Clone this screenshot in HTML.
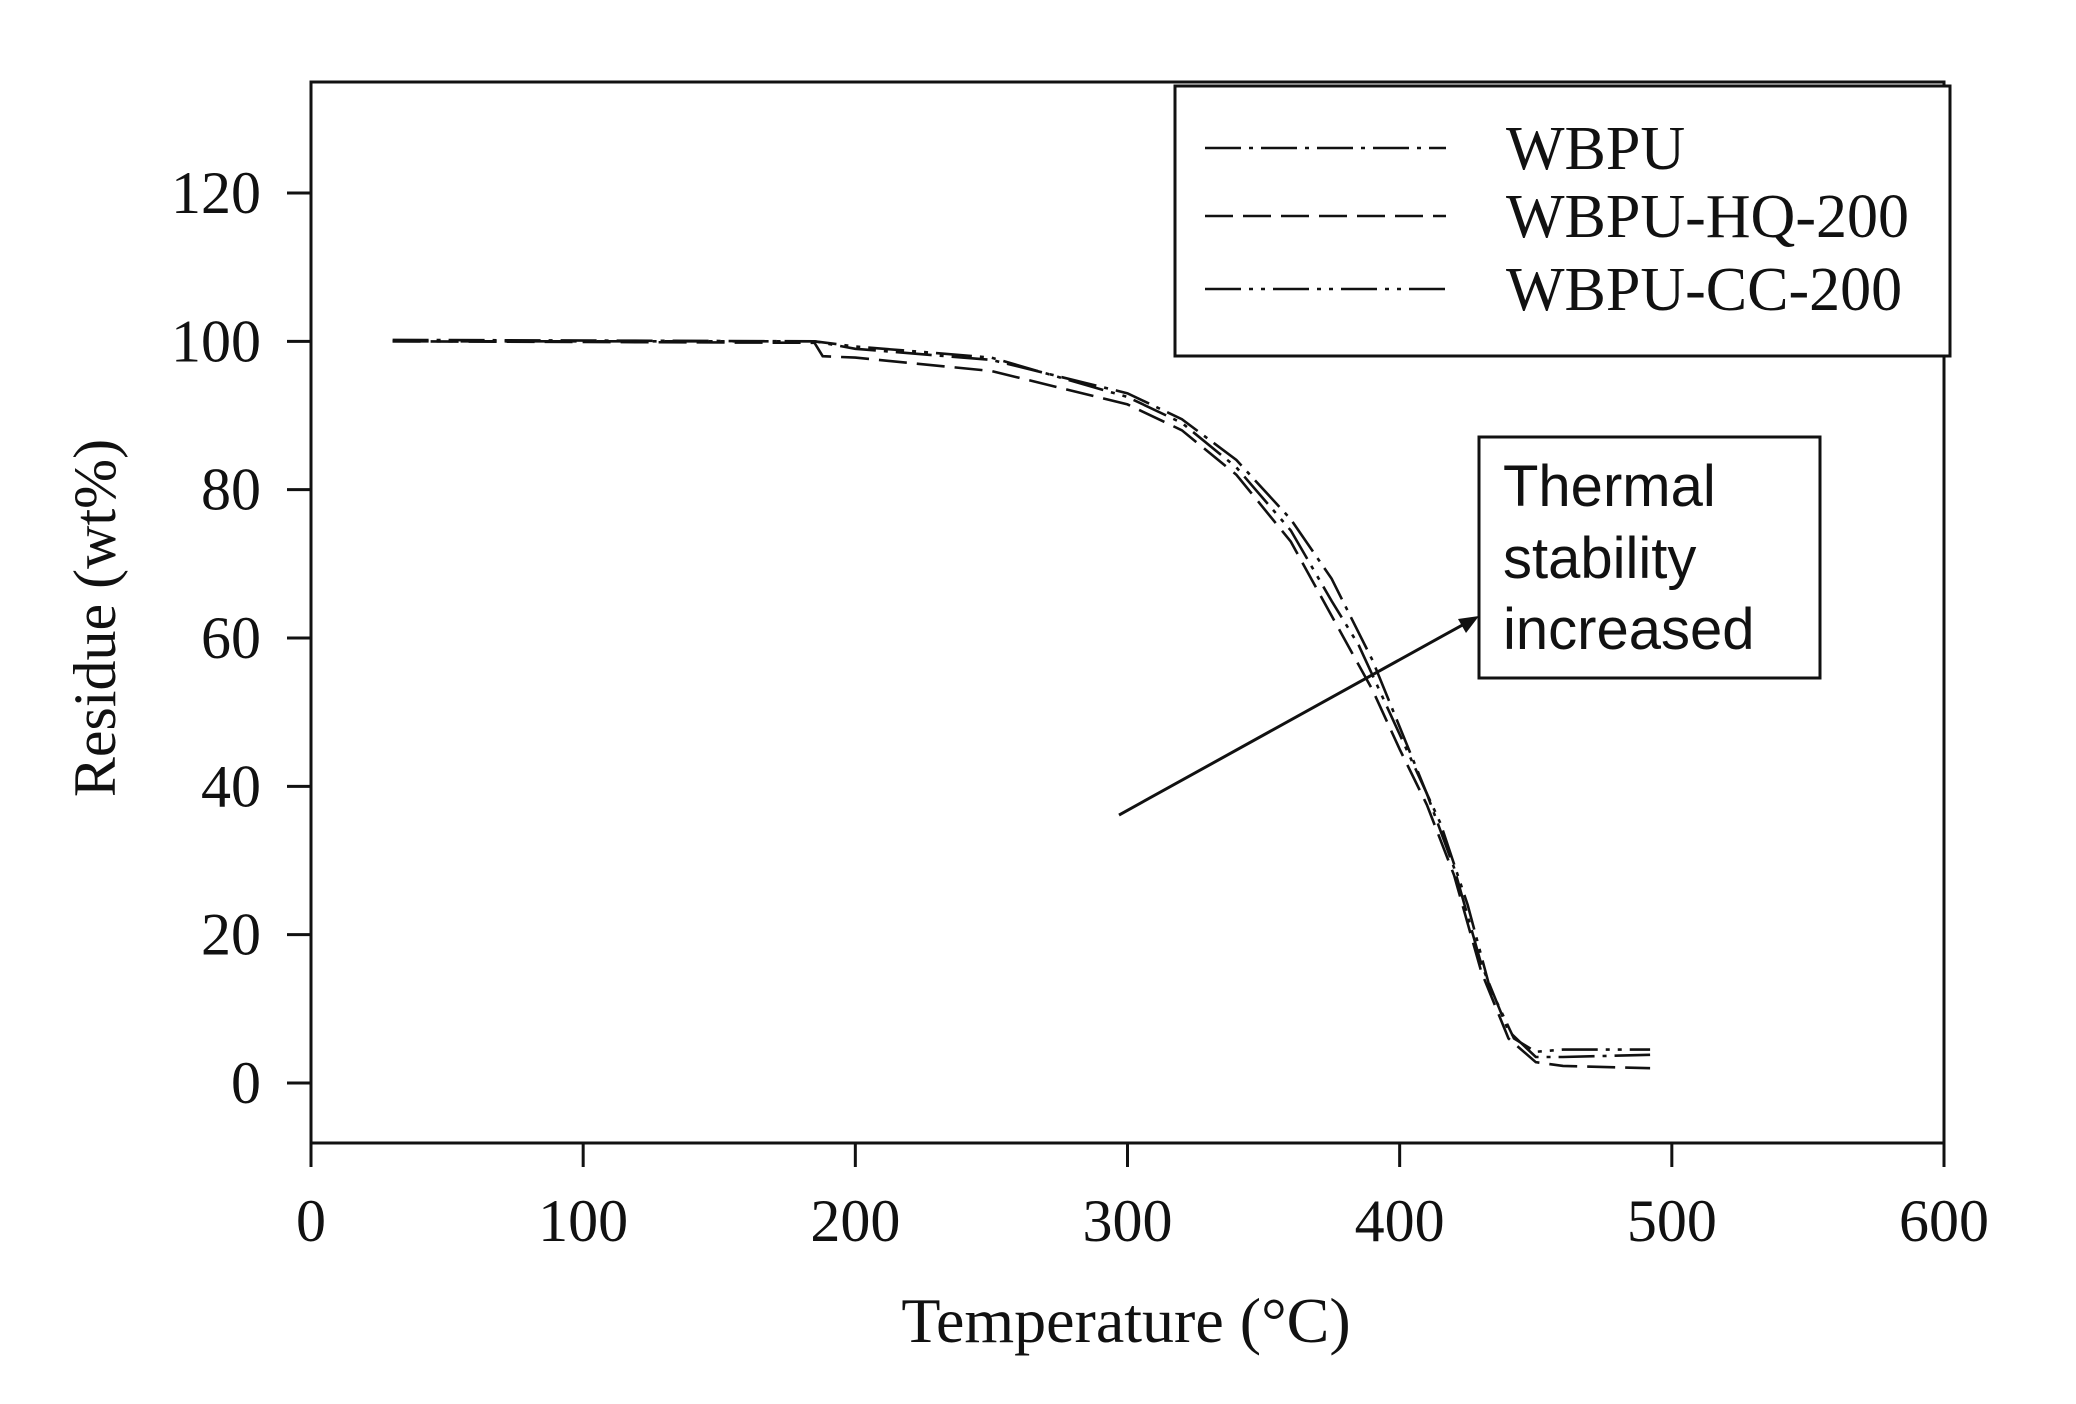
<!DOCTYPE html>
<html><head><meta charset="utf-8"><style>
html,body{margin:0;padding:0;background:#fff;}
svg{display:block;}
text{font-family:"Liberation Serif",serif;fill:#111;}
.s{font-family:"Liberation Sans",sans-serif;}
</style></head><body>
<svg id="c" width="2076" height="1404" viewBox="0 0 2076 1404" xmlns="http://www.w3.org/2000/svg">
<rect x="0" y="0" width="2076" height="1404" fill="#fff"/>
<rect x="311" y="82" width="1633" height="1061" fill="none" stroke="#111" stroke-width="3"/>
<g id="ticks" stroke="#111" stroke-width="3"></g>
<g id="labs" font-size="60"></g>
<g font-size="64" text-anchor="middle">
<text x="1126" y="1342">Temperature (°C)</text>
<text x="0" y="0" font-size="60" transform="translate(115,618) rotate(-90)">Residue (wt%)</text>
</g>
<g id="curves" fill="none" stroke="#111" stroke-width="2.6"></g>
<rect x="1175" y="86" width="775" height="270" fill="#fff" stroke="#111" stroke-width="3"/>
<g stroke="#111" stroke-width="2.6">
<line x1="1205" y1="148" x2="1446" y2="148" stroke-dasharray="36,8,4,8"/>
<line x1="1205" y1="216" x2="1446" y2="216" stroke-dasharray="28,10"/>
<line x1="1205" y1="289" x2="1446" y2="289" stroke-dasharray="36,8,4,8,4,8"/>
</g>
<g font-size="62">
<text x="1506" y="169">WBPU</text>
<text x="1506" y="237">WBPU-HQ-200</text>
<text x="1506" y="310">WBPU-CC-200</text>
</g>
<rect x="1479" y="437" width="341" height="241" fill="#fff" stroke="#111" stroke-width="3"/>
<g font-size="58">
<text class="s" x="1503" y="506">Thermal</text>
<text class="s" x="1503" y="578">stability</text>
<text class="s" x="1503" y="649">increased</text>
</g>
<line x1="1119" y1="815" x2="1466" y2="623" stroke="#111" stroke-width="3"/>
<polygon points="1479,616 1458,619 1466,633" fill="#111"/>
</svg>
<script>
var NS="http://www.w3.org/2000/svg";
function X(t){return 311+t*1633/600;}function Y(r){return 1083-r*890/120;}
function el(n,a,p,txt){var e=document.createElementNS(NS,n);for(var k in a)e.setAttribute(k,a[k]);if(txt!==undefined)e.textContent=txt;p.appendChild(e);return e;}
var tk=document.getElementById("ticks"),lb=document.getElementById("labs");
for(var r=0;r<=120;r+=20){var y=Y(r);el("line",{x1:287,y1:y,x2:311,y2:y},tk);el("text",{x:261,y:y+20,"text-anchor":"end"},lb,String(r));}
for(var t=0;t<=600;t+=100){var x=X(t);el("line",{x1:x,y1:1143,x2:x,y2:1167},tk);el("text",{x:x,y:1241,"text-anchor":"middle"},lb,String(t));}
var data=[
 {d:"36,8,4,8",p:[[30,100.2],[185,100],[200,99],[250,97.5],[300,93],[320,89.5],[340,84],[360,76],[375,68],[390,57],[400,48],[410,39],[420,29],[430,16],[440,7],[450,3.5],[460,3.5],[492,3.8]]},
 {d:"28,10",p:[[30,100],[185,99.8],[188,98],[200,97.8],[250,96],[300,91.5],[320,88],[340,82],[360,73],[375,63],[390,53],[400,45],[410,37.5],[420,28],[430,15],[440,6],[450,2.8],[460,2.3],[492,2]]},
 {d:"36,8,4,8,4,8",p:[[30,100],[185,100],[200,99.3],[250,97.8],[300,92.5],[320,89],[340,83],[360,74.5],[375,65],[385,59],[395,51],[405,43],[415,35],[425,24],[433,13],[442,6],[450,4.2],[460,4.5],[492,4.5]]}
];
var g=document.getElementById("curves");
data.forEach(function(s){var pts=s.p.map(function(q){return X(q[0]).toFixed(1)+","+Y(q[1]).toFixed(1);}).join(" ");
el("polyline",{points:pts,"stroke-dasharray":s.d},g);});
</script>
</body></html>
